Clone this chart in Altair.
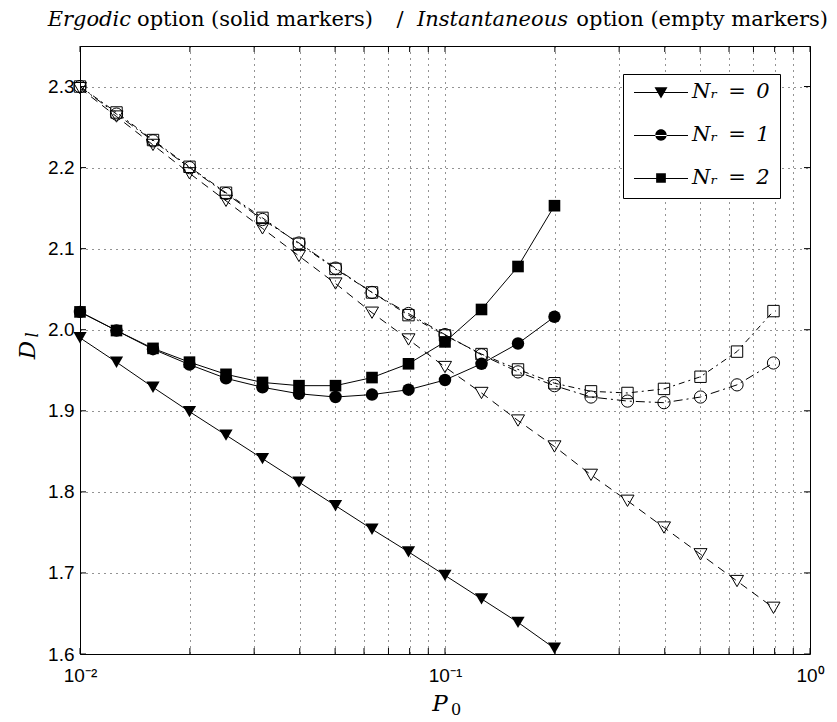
import altair as alt
import pandas as pd

# ---------------- data ----------------
P0_erg = [0.01, 0.01259, 0.01585, 0.01995, 0.02512, 0.03162, 0.03981, 0.05012,
          0.0631, 0.07943, 0.1, 0.1259, 0.1585, 0.1995]
erg_nr0 = [1.990, 1.960, 1.929, 1.899, 1.870, 1.841, 1.812, 1.783, 1.754, 1.726,
           1.697, 1.668, 1.639, 1.607]
erg_nr1 = [2.022, 1.999, 1.976, 1.957, 1.940, 1.929, 1.921, 1.917, 1.920, 1.926,
           1.938, 1.958, 1.983, 2.016]
erg_nr2 = [2.022, 1.999, 1.977, 1.960, 1.945, 1.935, 1.931, 1.931, 1.941, 1.958,
           1.985, 2.025, 2.078, 2.153]

P0_inst = [0.01, 0.01259, 0.01585, 0.01995, 0.02512, 0.03162, 0.03981, 0.05012,
           0.0631, 0.07943, 0.1, 0.1259, 0.1585, 0.1995, 0.2512, 0.3162, 0.3981,
           0.5012, 0.631, 0.7943]
inst_nr0 = [2.298, 2.263, 2.228, 2.193, 2.159, 2.125, 2.091, 2.057, 2.021, 1.988,
            1.954, 1.922, 1.888, 1.856, 1.821, 1.789, 1.756, 1.723, 1.690, 1.657]
inst_nr1 = [2.300, 2.266, 2.233, 2.200, 2.168, 2.136, 2.107, 2.076, 2.046, 2.020,
            1.994, 1.969, 1.948, 1.931, 1.917, 1.912, 1.910, 1.917, 1.932, 1.959]
inst_nr2 = [2.300, 2.268, 2.234, 2.201, 2.169, 2.138, 2.106, 2.075, 2.046, 2.018,
            1.993, 1.970, 1.951, 1.934, 1.924, 1.922, 1.927, 1.942, 1.973, 2.023]

nr_keys = ["0", "1", "2"]
legend_labels = ["N\u1d63\u2002=\u20020", "N\u1d63\u2002=\u20021", "N\u1d63\u2002=\u20022"]
y_ticks = [1.6, 1.7, 1.8, 1.9, 2.0, 2.1, 2.2, 2.3]
x_ticks = [0.01, 0.02, 0.03, 0.04, 0.05, 0.06, 0.07, 0.08, 0.09,
           0.1, 0.2, 0.3, 0.4, 0.5, 0.6, 0.7, 0.8, 0.9, 1.0]
x_tick_labels = {"0.01": "10\u207b\u00b2", "0.1": "10\u207b\u00b9", "1": "10\u2070"}

# ---------------- tables ----------------
def long(xs, series):
    rows = []
    for key, ys in zip(nr_keys, series):
        for x, y in zip(xs, ys):
            rows.append({"P0": x, "D": y, "Nr": key})
    return pd.DataFrame(rows)

erg = long(P0_erg, [erg_nr0, erg_nr1, erg_nr2])
inst = long(P0_inst, [inst_nr0, inst_nr1, inst_nr2])
yt_df = pd.DataFrame({"D": y_ticks})
xt_df = pd.DataFrame({"P0": x_ticks})
legend_df = pd.DataFrame({"lab": legend_labels})

W, H = 730, 608
SERIF = "DejaVu Serif"
SANS = "Liberation Sans"

xs = alt.Scale(type="log", domain=[0.01, 1.0], nice=False)
ys = alt.Scale(domain=[1.6, 2.35], nice=False, zero=False)

label_expr = " : ".join(
    [f"datum.value == {k} ? '{v}'" for k, v in x_tick_labels.items()]) + " : ''"

xaxis = alt.Axis(values=x_ticks, labelExpr=label_expr, title=None, domain=False,
                 ticks=False, labelFont=SANS, labelFontSize=19, labelPadding=12,
                 labelFlush=False, labelOverlap=False, labelColor="black",
                 grid=True, gridDash=[1, 5], gridColor="black", gridWidth=1,
                 gridOpacity=0.85)
yaxis = alt.Axis(values=y_ticks, format=".1f", title=None, domain=False,
                 ticks=False, labelFont=SANS, labelFontSize=19, labelPadding=6,
                 labelFlush=False, labelOverlap=False, labelColor="black",
                 grid=True, gridDash=[1, 5], gridColor="black", gridWidth=1,
                 gridOpacity=0.85)

X = alt.X("P0:Q", scale=xs, axis=xaxis)
Y = alt.Y("D:Q", scale=ys, axis=yaxis)

shape_scale = alt.Scale(domain=nr_keys, range=["triangle-down", "circle", "square"])

erg_lines = alt.Chart(erg).mark_line(color="black", strokeWidth=1).encode(
    x=X, y=Y, detail="Nr:N")
erg_pts = alt.Chart(erg).mark_point(filled=True, color="black", opacity=1).encode(
    x=X, y=Y,
    shape=alt.Shape("Nr:N", scale=shape_scale, legend=None),
    size=alt.Size("Nr:N", scale=alt.Scale(domain=nr_keys, range=[175, 135, 105]), legend=None))

inst_lines = alt.Chart(inst).mark_line(color="black", strokeWidth=1).encode(
    x=X, y=Y, detail="Nr:N",
    strokeDash=alt.StrokeDash("Nr:N", scale=alt.Scale(
        domain=nr_keys, range=[[8, 6], [9, 4, 2, 4], [6, 4, 2, 4]]), legend=None))
inst_pts = alt.Chart(inst).mark_point(filled=False, color="black", opacity=1,
                                      strokeWidth=1).encode(
    x=X, y=Y,
    shape=alt.Shape("Nr:N", scale=shape_scale, legend=None),
    size=alt.Size("Nr:N", scale=alt.Scale(domain=nr_keys, range=[170, 130, 110]), legend=None))

# legend: symbol = thin filled bar (the line) + marker, in the -1..1 box (54 px)
bar = "M-1,0H1V0.037H-1Z"
legend_paths = [
    bar + "M-0.24,-0.18L0.24,-0.18L0,0.24Z",
    bar + "M-0.21,0A0.21,0.21,0,1,0,0.21,0A0.21,0.21,0,1,0,-0.21,0Z",
    bar + "M-0.18,-0.18H0.18V0.18H-0.18Z",
]
legend_layer = alt.Chart(legend_df).transform_filter("false").mark_point(
    filled=True, color="black", fill="black", size=2916, opacity=1).encode(
    shape=alt.Shape("lab:N", scale=alt.Scale(domain=legend_labels, range=legend_paths),
                    legend=alt.Legend(title=None, orient="none", legendX=543, legendY=28,
                                      fillColor="white", strokeColor="black", padding=10,
                                      symbolSize=2916, symbolFillColor="black",
                                      symbolOpacity=1, clipHeight=16,
                                      labelFont=SERIF, labelFontSize=21,
                                      labelFontStyle="italic", labelColor="black",
                                      labelBaseline="middle",
                                      labelOffset=3, rowPadding=22, symbolOffset=0)))

# inward ticks on the box
tk = 6
y_in_l = alt.Chart(yt_df).mark_rule(color="black", strokeWidth=1).encode(
    y=Y, x=alt.value(0), x2=alt.value(tk))
y_in_r = alt.Chart(yt_df).mark_rule(color="black", strokeWidth=1).encode(
    y=Y, x=alt.value(W - tk), x2=alt.value(W))
x_in_b = alt.Chart(xt_df).mark_rule(color="black", strokeWidth=1).encode(
    x=X, y=alt.value(H - tk), y2=alt.value(H))
x_in_t = alt.Chart(xt_df).mark_rule(color="black", strokeWidth=1).encode(
    x=X, y=alt.value(0), y2=alt.value(tk))

one = pd.DataFrame({"a": [0]})

def txt(s, x, y, size=21, style="normal", align="left", angle=0, baseline="alphabetic"):
    kw = dict(text=s, font=SERIF, fontSize=size, fontStyle=style, align=align,
              baseline=baseline, color="black")
    if angle:
        kw["angle"] = angle
    return alt.Chart(one).mark_text(**kw).encode(x=alt.value(x), y=alt.value(y))

texts = [
    txt("Ergodic", 51, -20, style="italic", align="right"),
    txt("option (solid markers)", 57, -20),
    txt("/", 320, -20, align="center"),
    txt("Instantaneous", 337, -20, style="italic"),
    txt("option (empty markers)", 748, -20, align="right"),
    txt("P", 360, 665, size=23, style="italic", align="center"),
    txt("0", 376, 669, size=16, align="center"),
    txt("D", -52, 304, size=23, style="italic", align="center", angle=270, baseline="middle"),
    txt("l", -47, 289, size=16, style="italic", align="center", angle=270, baseline="middle"),
]

chart = alt.layer(
    erg_lines, inst_lines, erg_pts, inst_pts,
    y_in_l, y_in_r, x_in_b, x_in_t,
    legend_layer, *texts
).resolve_scale(
    shape="independent", size="independent", strokeDash="independent"
).properties(
    width=W, height=H,
    autosize=alt.AutoSizeParams(type="none"),
    padding={"left": 72, "top": 38, "right": 18, "bottom": 68},
    background="white",
).configure_view(stroke="black", strokeWidth=1)

chart.save("out.html", embed_options={"renderer": "svg", "actions": False})
